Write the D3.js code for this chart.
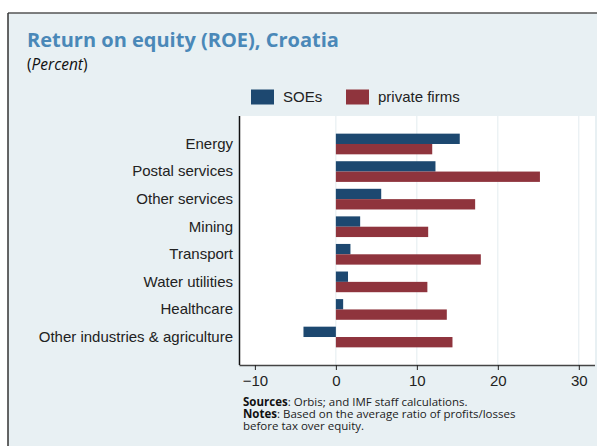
<!DOCTYPE html>
<html><head><meta charset="utf-8">
<script src="https://cdn.jsdelivr.net/npm/d3@7"></script>
<style>body{margin:0;background:#fff}svg{display:block}</style>
</head><body>
<svg id="c" width="597" height="446"></svg>
<script>
const categories = ["Energy","Postal services","Other services","Mining","Transport","Water utilities","Healthcare","Other industries & agriculture"];
const soes = [15.3, 12.3, 5.6, 3.0, 1.8, 1.5, 0.9, -4.0];
const privateFirms = [11.9, 25.2, 17.2, 11.4, 17.9, 11.3, 13.7, 14.4];
const seriesNames = ["SOEs","private firms"];
const xTicks = [-10, 0, 10, 20, 30];

const colors = ["#1d4870", "#8f343d"];
const svg = d3.select("#c");

// panel
svg.append("rect").attr("x",8).attr("y",13).attr("width",589).attr("height",433).attr("fill","#e8f0f3");
svg.append("line").attr("x1",8).attr("x2",597).attr("y1",13).attr("y2",13).attr("stroke","#555").attr("stroke-width",1.5);
svg.append("line").attr("x1",8).attr("x2",8).attr("y1",13).attr("y2",446).attr("stroke","#333").attr("stroke-width",1.5);

// title
svg.append("text").attr("x",27).attr("y",47).attr("font-family","'Open Sans', sans-serif").attr("font-weight",700)
  .attr("font-size",20).attr("fill","#4a88b8").text("Return on equity (ROE), Croatia");

// subtitle pieces placed side by side (no overlapping tspans)
function inline(parts, x0, y0, base) {
  let cx = x0;
  parts.forEach(p => {
    const t = svg.append("text").attr("x", cx).attr("y", y0)
      .attr("font-family", base.family).attr("font-size", base.size).attr("fill", p.fill || base.fill)
      .attr("font-weight", p.bold ? 700 : 400).attr("font-style", p.italic ? "italic" : "normal")
      .attr("xml:space","preserve").style("white-space","pre").text(p.t);
    cx += t.node().getComputedTextLength();
  });
}
inline([{t:"("},{t:"Percent",italic:true},{t:")"}], 27, 70, {family:"'Open Sans', sans-serif", size:15.5, fill:"#111"});

// plot area
const L = 239.5, R = 595, T = 116, B = 365;
svg.append("rect").attr("x",L).attr("y",T).attr("width",R-L).attr("height",B-T).attr("fill","#fff");

const x = d3.scaleLinear().domain([-11.9, 32]).range([L, R]);
const y = d3.scaleBand().domain(categories).range([T, B]).paddingInner(0.25).paddingOuter(0.64);
const ySub = d3.scaleBand().domain(seriesNames).range([0, y.bandwidth()]);

// gridlines
svg.append("g").selectAll("line").data(xTicks.filter(t=>t>=0)).join("line")
  .attr("x1",d=>x(d)).attr("x2",d=>x(d)).attr("y1",T).attr("y2",B)
  .attr("stroke","#e3ecef").attr("stroke-width",1);

// bars
const data = categories.map((c,i)=>({c, vals:[soes[i], privateFirms[i]]}));
const g = svg.append("g").selectAll("g").data(data).join("g").attr("transform",d=>`translate(0,${y(d.c)})`);
g.selectAll("rect").data(d=>d.vals.map((v,j)=>({v, s:seriesNames[j], j}))).join("rect")
  .attr("x",d=>x(Math.min(0,d.v))).attr("width",d=>Math.abs(x(d.v)-x(0)))
  .attr("y",d=>ySub(d.s)).attr("height",ySub.bandwidth())
  .attr("fill",d=>colors[d.j]);

// axes
const xAxis = svg.append("g").attr("transform",`translate(0,${B})`)
  .call(d3.axisBottom(x).tickValues(xTicks).tickSize(5).tickPadding(5).tickSizeOuter(0));
xAxis.select(".domain").attr("stroke","#444").attr("stroke-width",1.5);
xAxis.selectAll(".tick line").attr("stroke","#222");
xAxis.selectAll("text").attr("font-family","'Liberation Sans', Arial, sans-serif").attr("font-size",15).attr("fill","#222");
xAxis.selectAll(".domain").attr("d",`M${L},0.5H${R}`);

const yAxis = svg.append("g").attr("transform",`translate(${L},0)`)
  .call(d3.axisLeft(y).tickSize(0).tickPadding(6.5));
yAxis.select(".domain").attr("stroke","#111").attr("stroke-width",1.5).attr("d",`M0,${T}V${B}`);
yAxis.selectAll("text").attr("font-family","'Liberation Sans', Arial, sans-serif").attr("font-size",15).attr("fill","#222");

// legend
const leg = svg.append("g");
const legX = [251, 346];
seriesNames.forEach((s,i)=>{
  leg.append("rect").attr("x",legX[i]).attr("y",89.5).attr("width",23).attr("height",15).attr("fill",colors[i]);
  leg.append("text").attr("x",legX[i]+32).attr("y",97).attr("dy","0.35em")
    .attr("font-family","'Liberation Sans', Arial, sans-serif").attr("font-size",15).attr("fill","#222").text(s);
});

// notes
const nb = {family:"'Open Sans', sans-serif", size:11.5, fill:"#222"};
inline([{t:"Sources",bold:true,fill:"#111"},{t:": Orbis; and IMF staff calculations."}], 243, 406, nb);
inline([{t:"Notes",bold:true,fill:"#111"},{t:": Based on the average ratio of profits/losses"}], 243, 418, nb);
inline([{t:"before tax over equity."}], 243, 430, nb);
</script>
</body></html>
